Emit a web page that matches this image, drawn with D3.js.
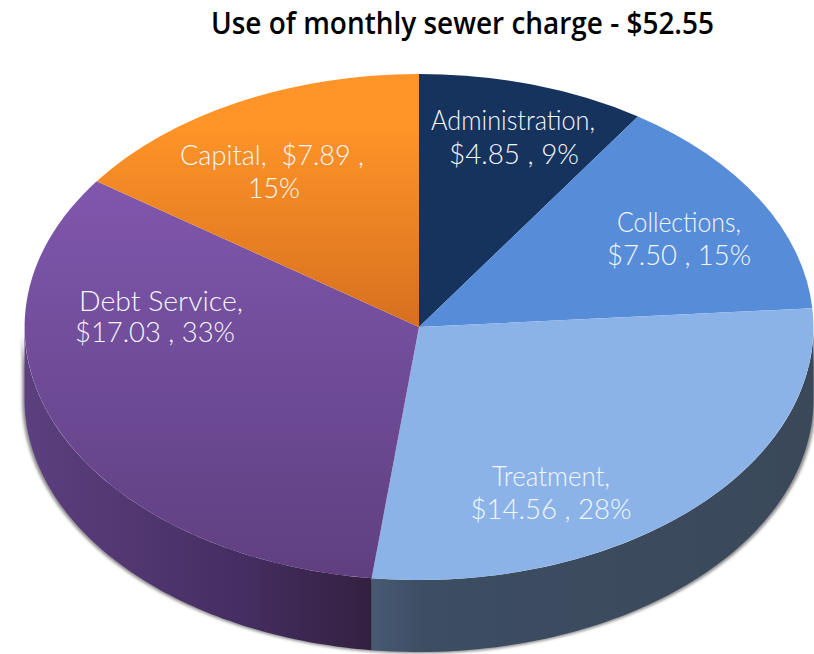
<!DOCTYPE html>
<html>
<head>
<meta charset="utf-8">
<script src="https://cdn.jsdelivr.net/npm/d3@7"></script>
<style>
html,body{margin:0;padding:0;background:#fff;overflow:hidden}
svg{display:block}
text{font-family:Lato,"Open Sans",sans-serif;font-weight:300}
</style>
</head>
<body>
<svg id="chart" width="814" height="654"></svg>
<script>
const categories = ["Administration","Collections","Treatment","Debt Service","Capital"];
const values = [4.85,7.50,14.56,17.03,7.89];
const labelLines = [
  ["Administration,","$4.85 , 9%"],
  ["Collections,","$7.50 , 15%"],
  ["Treatment,","$14.56 , 28%"],
  ["Debt Service,","$17.03 , 33%"],
  ["Capital,  $7.89 ,","15%"]
];
const titleText = "Use of monthly sewer charge - $52.55";

const cx = 419, cy = 327, rx = 394.5, ry = 253, depth = 72;
const topGrad = [["#16335e","#16335e"],["#568cd8","#568cd8"],["#8bb3e8","#8bb3e8"],["#7f57ad","#5f3f80"],["#ff9428","#d6701f"]];
const labelPos = [[[513,130],[514,164]],[[679,232],[679,265]],[[551,486],[551,519]],[[161,311],[155,342]],[[272,165],[274,198]]];
const labelWidths = [[164,130],[124,144],[118,161],[164,160],[184,52]];

const svg = d3.select("#chart");
const defs = svg.append("defs");
const pie = d3.pie().sort(null).value(d=>d)(values);

// Maps pie angle onto the tilted ellipse.
const px = d3.scaleLinear().domain([-1,1]).range([cx-rx,cx+rx]);
const py = d3.scaleLinear().domain([-1,1]).range([cy-ry,cy+ry]);
const arc = d3.arc().innerRadius(0).outerRadius(1);

// Vertical gradients for top faces (unit-circle space, the path is scaled)
pie.forEach((p,i)=>{
  const g = defs.append("linearGradient").attr("id","top"+i)
    .attr("gradientUnits","userSpaceOnUse").attr("x1",0).attr("x2",0)
    .attr("y1",i===4?-0.8:-0.57).attr("y2",i===4?0:1);
  g.append("stop").attr("offset",0).attr("stop-color",topGrad[i][0]);
  g.append("stop").attr("offset",1).attr("stop-color",topGrad[i][1]);
});

// Side wall gradients
const wallDebt = defs.append("linearGradient").attr("id","wall3")
  .attr("gradientUnits","userSpaceOnUse").attr("x1",cx-rx).attr("x2",373).attr("y1",0).attr("y2",0);
[[0,"#5c3f7f"],[0.3,"#523771"],[0.65,"#442d60"],[1,"#33203f"]].forEach(s=>wallDebt.append("stop").attr("offset",s[0]).attr("stop-color",s[1]));
const wallTreat = defs.append("linearGradient").attr("id","wall2")
  .attr("gradientUnits","userSpaceOnUse").attr("x1",373).attr("x2",cx+rx).attr("y1",0).attr("y2",0);
[[0,"#475a73"],[0.12,"#3d4d62"],[1,"#3a485a"]].forEach(s=>wallTreat.append("stop").attr("offset",s[0]).attr("stop-color",s[1]));

const blur = defs.append("filter").attr("id","soft").attr("x","-5%").attr("y","-5%").attr("width","110%").attr("height","110%");
blur.append("feGaussianBlur").attr("stdDeviation",1.6);

const edge = a => [px(Math.sin(a)), py(-Math.cos(a))];
const line = d3.line();
function wallPath(a0,a1){
  const n = 80;
  const ang = d3.range(n+1).map(k=>a0+(a1-a0)*k/n);
  const top = ang.map(edge);
  const bottom = ang.map(edge).map(p=>[p[0],p[1]+depth]).reverse();
  return line(top.concat(bottom))+"Z";
}

// Drop shadow along lower rim
svg.append("path").attr("d",wallPath(Math.PI/2,3*Math.PI/2))
  .attr("fill","#8d8d8d").attr("filter","url(#soft)")
  .attr("transform","translate(0,1.5) translate("+cx+",0) scale(1.006,1) translate("+(-cx)+",0)");

// Side walls: only the part facing the viewer
[[2,Math.PI/2,pie[2].endAngle],[3,pie[3].startAngle,3*Math.PI/2]].forEach(v=>{
  svg.append("path").attr("d",wallPath(v[1],v[2])).attr("fill","url(#wall"+v[0]+")");
});

// Top faces
svg.append("g").selectAll("path").data(pie).join("path")
  .attr("d",d=>arc(d))
  .attr("transform","translate("+cx+","+cy+") scale("+rx+","+ry+")")
  .attr("fill",(d,i)=>"url(#top"+i+")");

// Labels
labelLines.forEach((lines,i)=>{
  lines.forEach((t,j)=>{
    svg.append("text")
      .attr("x",labelPos[i][j][0]).attr("y",labelPos[i][j][1])
      .attr("text-anchor","middle").attr("fill","#f4f7fb").attr("font-size",27)
      .attr("textLength",labelWidths[i][j]).attr("lengthAdjust","spacingAndGlyphs")
      .attr("xml:space","preserve")
      .text(t);
  });
});

// Title
svg.append("text").attr("x",462.5).attr("y",34).attr("text-anchor","middle")
  .attr("fill","#000").attr("font-size",30)
  .style("font-family",'"Open Sans",sans-serif').style("font-weight",600)
  .attr("textLength",503).attr("lengthAdjust","spacingAndGlyphs")
  .text(titleText);
</script>
</body>
</html>
